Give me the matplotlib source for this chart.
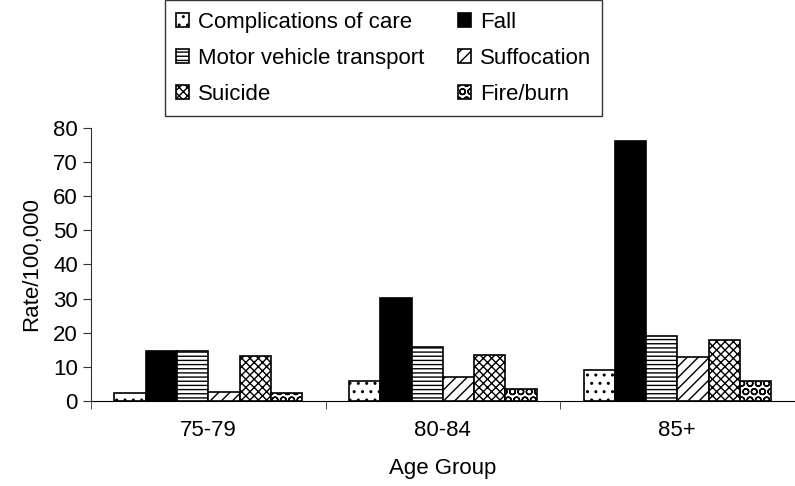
import numpy as np
import matplotlib
matplotlib.use("Agg")
import matplotlib.pyplot as plt

plt.rcParams['font.family'] = ['Liberation Sans', 'DejaVu Sans']
plt.rcParams['hatch.linewidth'] = 1.0

# rates per 100,000
age_groups = ['75-79', '80-84', '85+']
causes = ['Complications of care', 'Fall', 'Motor vehicle transport',
          'Suffocation', 'Suicide', 'Fire/burn']
complications = [2.3, 5.7, 9.0]
fall = [14.5, 30.1, 76.0]
motor_vehicle = [14.5, 15.7, 18.9]
suffocation = [2.7, 6.9, 12.9]
suicide = [13.3, 13.5, 17.9]
fire_burn = [2.3, 3.4, 5.7]

series = [complications, fall, motor_vehicle, suffocation, suicide, fire_burn]
fills = ['white', 'black', 'white', 'white', 'white', 'white']
hatches = ['..', None, '----', '///', 'xxxx', 'OO']

fs = 16

fig = plt.figure(figsize=(7.95, 4.86), dpi=100)
ax = fig.add_axes([0.1145, 0.175, 0.885, 0.562])

n = len(series)
bw = 1.0 / (n + 1.5)
x = np.arange(len(age_groups))
bars = []
for i, vals in enumerate(series):
    off = (i - (n - 1) / 2) * bw
    b = ax.bar(x + off, vals, bw, color=fills[i], edgecolor='black',
               hatch=hatches[i], linewidth=1.2, label=causes[i])
    bars.append(b)

ax.set_xlim(-0.5, 2.5)
ax.set_ylim(0, 80)
ax.set_yticks(range(0, 81, 10))
ax.set_xticks(x)
ax.set_xticklabels(age_groups)
ax.set_xticks(np.arange(-0.5, 2.6, 1.0), minor=True)
ax.tick_params(axis='x', which='major', length=0, pad=14, labelsize=fs)
ax.tick_params(axis='x', which='minor', length=6, direction='out', color='#333333')
ax.tick_params(axis='y', length=6, direction='out', labelsize=fs, color='#333333')

for s in ['top', 'right']:
    ax.spines[s].set_visible(False)
ax.spines['left'].set_color('#333333')
ax.spines['bottom'].set_color('black')

ax.set_ylabel('Rate/100,000', fontsize=fs, labelpad=8)
ax.set_xlabel('Age Group', fontsize=fs, labelpad=12)

# legend: order row-wise like the original (2 columns)
order = [0, 2, 4, 1, 3, 5]
leg = fig.legend([bars[k] for k in order], [causes[k] for k in order],
                 ncol=2, loc='upper left', bbox_to_anchor=(0.207, 0.999),
                 borderaxespad=0,
                 frameon=True, fancybox=False, edgecolor='black',
                 fontsize=fs, handlelength=0.6, handleheight=0.6,
                 handletextpad=0.4, columnspacing=1.5, labelspacing=0.68,
                 borderpad=0.5)
leg.get_frame().set_linewidth(1.0)

fig.savefig('out.png', dpi=100)
